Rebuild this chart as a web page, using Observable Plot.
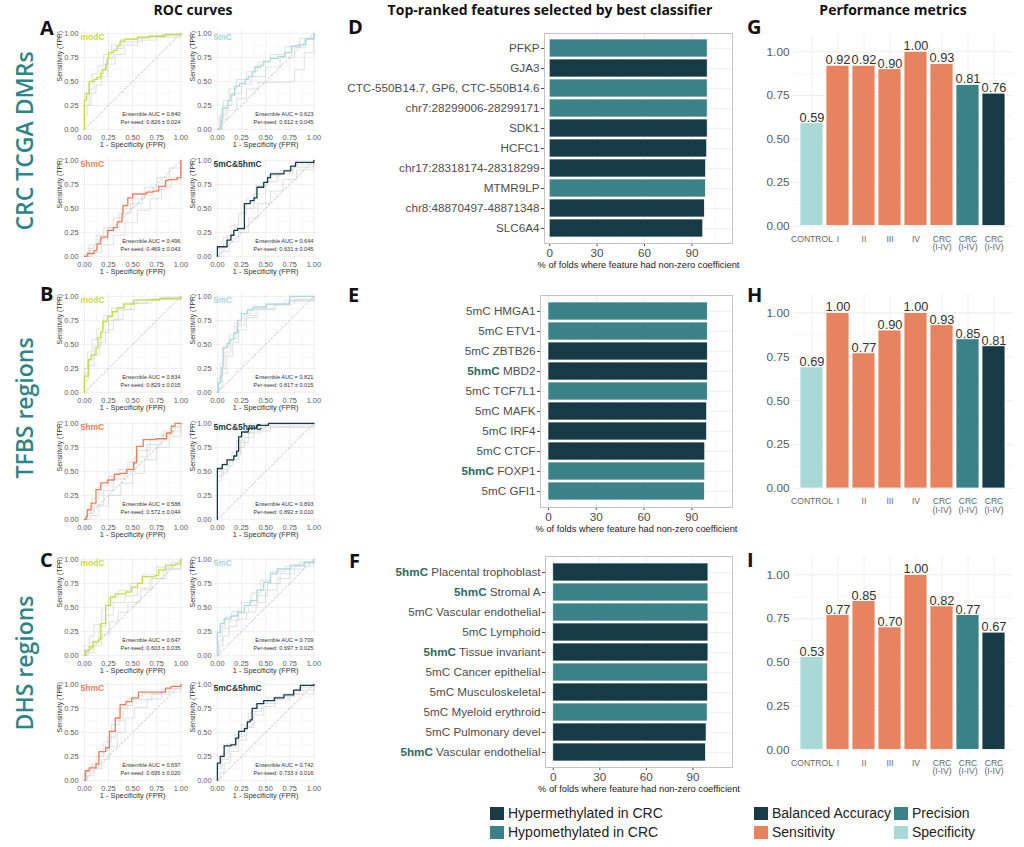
<!DOCTYPE html>
<html>
<head>
<meta charset="utf-8">
<script src="https://cdn.jsdelivr.net/npm/d3@7"></script>
<script src="https://cdn.jsdelivr.net/npm/@observablehq/plot@0.6"></script>
<style>
  body { margin: 0; background: #fff; }
  #fig { position: relative; width: 1024px; height: 847px; overflow: hidden; background: #fff;
         font-family: "Liberation Sans", Arial, sans-serif; }
  .sw { position: absolute; width: 14px; height: 13px; }
  .lg { position: absolute; font-size: 14px; color: #222; line-height: 13px; white-space: nowrap; }
</style>
</head>
<body>
<div id="fig"></div>
<script>
// ---------------- ROC curves: ensemble curve per model + a few per-seed curves ----------------
const rocModels = ["modC", "5mC", "5hmC", "5mC&5hmC"];
const rocColors = ["#c5de3c", "#a8dadc", "#e8825e", "#173a47"];

const aucEnsA = ["0.840", "0.623", "0.496", "0.644"];
const aucSeedA = ["0.826 ± 0.024", "0.612 ± 0.045", "0.469 ± 0.043", "0.631 ± 0.045"];
const aucEnsB = ["0.834", "0.821", "0.588", "0.893"];
const aucSeedB = ["0.829 ± 0.015", "0.817 ± 0.015", "0.572 ± 0.044", "0.892 ± 0.010"];
const aucEnsC = ["0.647", "0.709", "0.697", "0.742"];
const aucSeedC = ["0.603 ± 0.035", "0.697 ± 0.025", "0.695 ± 0.020", "0.733 ± 0.016"];

// [FPR, TPR] vertices of each stepped ROC curve
const ensA_modC = [[0,0],[0,0.30],[0.02,0.37],[0.05,0.50],[0.10,0.52],[0.13,0.54],[0.17,0.58],[0.19,0.62],[0.22,0.68],[0.24,0.74],[0.25,0.80],[0.30,0.82],[0.34,0.87],[0.37,0.92],[0.42,0.94],[0.55,0.955],[0.67,0.97],[0.84,0.99],[1,1]];
const ensA_5mC = [[0,0],[0.04,0.09],[0.05,0.22],[0.11,0.30],[0.14,0.36],[0.18,0.45],[0.23,0.48],[0.29,0.52],[0.32,0.55],[0.36,0.60],[0.39,0.65],[0.45,0.67],[0.48,0.71],[0.55,0.74],[0.63,0.76],[0.70,0.80],[0.77,0.87],[0.84,0.88],[0.91,0.94],[1,1]];
const ensA_5hmC = [[0,0],[0.03,0.03],[0.10,0.06],[0.13,0.13],[0.17,0.20],[0.24,0.27],[0.30,0.30],[0.34,0.36],[0.39,0.44],[0.40,0.53],[0.45,0.61],[0.50,0.65],[0.64,0.67],[0.71,0.68],[0.77,0.73],[0.84,0.79],[0.87,0.80],[0.96,0.82],[1,0.82],[1,1]];
const ensA_both = [[0,0],[0,0.10],[0.05,0.10],[0.10,0.17],[0.14,0.22],[0.17,0.27],[0.21,0.29],[0.28,0.29],[0.28,0.55],[0.34,0.58],[0.38,0.61],[0.41,0.72],[0.48,0.77],[0.52,0.82],[0.55,0.86],[0.69,0.89],[0.76,0.94],[0.81,0.98],[1,1]];

const ensB_modC = [[0,0],[0,0.17],[0.03,0.17],[0.04,0.34],[0.07,0.39],[0.12,0.46],[0.14,0.57],[0.17,0.63],[0.19,0.74],[0.24,0.79],[0.29,0.84],[0.34,0.88],[0.41,0.92],[0.51,0.96],[0.78,0.98],[1,1]];
const ensB_5mC = [[0,0],[0.01,0.10],[0.03,0.17],[0.05,0.27],[0.06,0.46],[0.10,0.51],[0.13,0.55],[0.17,0.62],[0.21,0.75],[0.25,0.82],[0.31,0.86],[0.38,0.89],[0.51,0.92],[0.74,0.94],[0.75,1],[1,1]];
const ensB_5hmC = [[0,0],[0.02,0.03],[0.03,0.10],[0.07,0.17],[0.12,0.31],[0.17,0.38],[0.24,0.41],[0.31,0.47],[0.37,0.48],[0.44,0.52],[0.51,0.59],[0.54,0.76],[0.61,0.83],[0.75,0.84],[0.85,0.90],[0.90,0.97],[0.94,1],[1,1]];
const ensB_both = [[0,0],[0,0.53],[0.05,0.57],[0.10,0.62],[0.17,0.66],[0.20,0.71],[0.22,0.86],[0.25,0.91],[0.32,0.95],[0.41,0.98],[0.53,1],[1,1]];

const ensC_modC = [[0,0],[0.01,0.05],[0.05,0.09],[0.09,0.14],[0.15,0.17],[0.17,0.33],[0.22,0.52],[0.27,0.61],[0.32,0.64],[0.43,0.66],[0.49,0.71],[0.55,0.75],[0.60,0.82],[0.73,0.83],[0.77,0.89],[0.84,0.94],[0.94,0.95],[1,1]];
const ensC_5mC = [[0,0],[0,0.24],[0.03,0.33],[0.07,0.38],[0.14,0.41],[0.21,0.45],[0.28,0.52],[0.34,0.57],[0.41,0.68],[0.48,0.76],[0.55,0.85],[0.62,0.90],[0.76,0.94],[0.90,0.97],[1,1]];
const ensC_5hmC = [[0,0],[0.01,0.10],[0.05,0.13],[0.12,0.17],[0.15,0.30],[0.22,0.34],[0.26,0.51],[0.32,0.65],[0.37,0.79],[0.43,0.82],[0.49,0.86],[0.56,0.92],[0.84,0.96],[0.90,0.98],[1,1]];
const ensC_both = [[0,0],[0,0.18],[0.03,0.25],[0.07,0.36],[0.14,0.37],[0.19,0.44],[0.22,0.51],[0.28,0.54],[0.31,0.61],[0.34,0.63],[0.36,0.75],[0.41,0.80],[0.48,0.83],[0.59,0.86],[0.69,0.89],[0.79,0.94],[0.86,0.99],[1,1]];

// per-seed curves (grey)
const seedA_modC = [
  [[0,0],[0,0.38],[0.04,0.48],[0.08,0.58],[0.14,0.66],[0.20,0.78],[0.28,0.88],[0.38,0.94],[0.55,0.97],[0.80,0.99],[1,1]],
  [[0,0],[0,0.15],[0.03,0.25],[0.07,0.38],[0.12,0.46],[0.18,0.55],[0.24,0.68],[0.32,0.78],[0.42,0.88],[0.55,0.93],[0.75,0.98],[1,1]],
  [[0,0],[0,0.25],[0.05,0.42],[0.10,0.52],[0.17,0.63],[0.23,0.74],[0.30,0.84],[0.40,0.91],[0.60,0.96],[1,1]]];
const seedA_5mC = [
  [[0,0],[0.02,0.12],[0.06,0.30],[0.12,0.42],[0.20,0.52],[0.30,0.60],[0.42,0.70],[0.55,0.78],[0.70,0.86],[0.85,0.95],[1,1]],
  [[0,0],[0.05,0.10],[0.10,0.20],[0.20,0.32],[0.30,0.42],[0.42,0.49],[0.60,0.49],[0.79,0.50],[0.80,0.62],[0.90,0.80],[1,1]],
  [[0,0],[0.03,0.15],[0.08,0.25],[0.15,0.38],[0.25,0.47],[0.35,0.55],[0.50,0.65],[0.65,0.75],[0.80,0.85],[0.92,0.95],[1,1]]];
const seedA_5hmC = [
  [[0,0],[0.05,0.12],[0.12,0.22],[0.20,0.30],[0.30,0.40],[0.40,0.50],[0.50,0.60],[0.62,0.72],[0.75,0.82],[0.88,0.92],[1,1]],
  [[0,0],[0.08,0.04],[0.18,0.12],[0.30,0.22],[0.42,0.35],[0.55,0.48],[0.68,0.60],[0.80,0.72],[0.90,0.82],[1,1]],
  [[0,0],[0.04,0.08],[0.14,0.18],[0.25,0.30],[0.36,0.45],[0.48,0.55],[0.60,0.64],[0.72,0.70],[0.85,0.80],[1,1]]];
const seedA_both = [
  [[0,0],[0,0.08],[0.06,0.20],[0.14,0.32],[0.22,0.45],[0.30,0.60],[0.40,0.74],[0.52,0.84],[0.65,0.90],[0.80,0.96],[1,1]],
  [[0,0],[0.05,0.05],[0.12,0.15],[0.22,0.25],[0.32,0.40],[0.42,0.55],[0.55,0.68],[0.68,0.80],[0.82,0.90],[1,1]],
  [[0,0],[0.02,0.10],[0.10,0.22],[0.18,0.30],[0.28,0.50],[0.38,0.65],[0.50,0.78],[0.62,0.86],[0.78,0.93],[1,1]]];

const seedB_modC = [
  [[0,0],[0,0.25],[0.03,0.42],[0.08,0.55],[0.13,0.66],[0.20,0.80],[0.28,0.88],[0.40,0.93],[0.55,0.97],[0.80,0.99],[1,1]],
  [[0,0],[0,0.12],[0.04,0.28],[0.10,0.40],[0.16,0.52],[0.22,0.65],[0.30,0.76],[0.40,0.86],[0.52,0.93],[0.70,0.97],[1,1]],
  [[0,0],[0,0.20],[0.05,0.35],[0.10,0.48],[0.17,0.62],[0.25,0.75],[0.35,0.86],[0.48,0.93],[0.65,0.97],[1,1]]];
const seedB_5mC = [
  [[0,0],[0,0.15],[0.03,0.30],[0.06,0.48],[0.12,0.60],[0.18,0.72],[0.25,0.82],[0.35,0.88],[0.50,0.92],[0.70,0.96],[1,1]],
  [[0,0],[0.02,0.05],[0.05,0.20],[0.10,0.38],[0.16,0.52],[0.22,0.65],[0.30,0.78],[0.42,0.86],[0.60,0.92],[0.80,0.97],[1,1]],
  [[0,0],[0.01,0.10],[0.04,0.25],[0.08,0.42],[0.14,0.56],[0.20,0.70],[0.28,0.80],[0.40,0.87],[0.58,0.91],[0.75,0.95],[1,1]]];
const seedB_5hmC = [
  [[0,0],[0.03,0.10],[0.08,0.22],[0.15,0.35],[0.25,0.45],[0.35,0.52],[0.45,0.60],[0.55,0.72],[0.68,0.84],[0.82,0.92],[1,1]],
  [[0,0],[0.06,0.04],[0.15,0.14],[0.25,0.25],[0.38,0.38],[0.50,0.48],[0.62,0.62],[0.75,0.75],[0.88,0.86],[1,1]],
  [[0,0],[0.02,0.06],[0.10,0.15],[0.20,0.30],[0.30,0.42],[0.42,0.50],[0.52,0.65],[0.65,0.78],[0.80,0.88],[0.92,0.96],[1,1]]];
const seedB_both = [
  [[0,0],[0,0.50],[0.05,0.58],[0.10,0.62],[0.15,0.70],[0.20,0.82],[0.26,0.90],[0.35,0.95],[0.50,0.99],[1,1]],
  [[0,0],[0,0.40],[0.04,0.48],[0.10,0.56],[0.16,0.62],[0.22,0.75],[0.28,0.85],[0.38,0.92],[0.55,0.97],[1,1]],
  [[0,0],[0,0.45],[0.06,0.52],[0.12,0.60],[0.18,0.68],[0.24,0.80],[0.32,0.90],[0.45,0.96],[1,1]]];

const seedC_modC = [
  [[0,0],[0,0.10],[0.05,0.20],[0.10,0.32],[0.18,0.48],[0.25,0.60],[0.35,0.68],[0.48,0.75],[0.60,0.84],[0.75,0.92],[0.90,0.97],[1,1]],
  [[0,0],[0.04,0.03],[0.10,0.10],[0.18,0.22],[0.26,0.35],[0.35,0.45],[0.45,0.55],[0.58,0.68],[0.70,0.80],[0.85,0.90],[1,1]],
  [[0,0],[0.02,0.06],[0.08,0.15],[0.15,0.30],[0.22,0.42],[0.30,0.55],[0.42,0.62],[0.55,0.70],[0.68,0.80],[0.82,0.90],[1,1]]];
const seedC_5mC = [
  [[0,0],[0,0.20],[0.03,0.30],[0.08,0.40],[0.15,0.46],[0.25,0.55],[0.35,0.65],[0.45,0.78],[0.55,0.87],[0.70,0.93],[0.85,0.97],[1,1]],
  [[0,0],[0.02,0.10],[0.06,0.20],[0.12,0.30],[0.20,0.38],[0.30,0.45],[0.40,0.55],[0.50,0.68],[0.62,0.80],[0.75,0.90],[0.90,0.96],[1,1]],
  [[0,0],[0.01,0.15],[0.05,0.28],[0.12,0.36],[0.22,0.44],[0.32,0.52],[0.42,0.62],[0.52,0.75],[0.65,0.85],[0.80,0.93],[1,1]]];
const seedC_5hmC = [
  [[0,0],[0,0.08],[0.06,0.15],[0.12,0.25],[0.20,0.40],[0.28,0.58],[0.36,0.75],[0.45,0.85],[0.60,0.90],[0.80,0.95],[1,1]],
  [[0,0],[0.03,0.05],[0.10,0.12],[0.18,0.22],[0.26,0.35],[0.34,0.50],[0.42,0.65],[0.52,0.76],[0.65,0.85],[0.80,0.92],[1,1]],
  [[0,0],[0.02,0.10],[0.08,0.18],[0.15,0.30],[0.24,0.45],[0.32,0.62],[0.40,0.78],[0.50,0.84],[0.70,0.90],[0.88,0.96],[1,1]]];
const seedC_both = [
  [[0,0],[0,0.15],[0.05,0.28],[0.10,0.38],[0.18,0.48],[0.25,0.58],[0.32,0.70],[0.40,0.80],[0.52,0.86],[0.68,0.90],[0.85,0.97],[1,1]],
  [[0,0],[0.02,0.08],[0.07,0.18],[0.14,0.30],[0.22,0.42],[0.30,0.55],[0.38,0.68],[0.48,0.77],[0.60,0.84],[0.75,0.90],[1,1]],
  [[0,0],[0,0.12],[0.04,0.22],[0.12,0.34],[0.20,0.46],[0.28,0.56],[0.36,0.72],[0.46,0.80],[0.60,0.87],[0.80,0.94],[1,1]]];

// ---------------- Top-ranked features ----------------
const featD = ["PFKP", "GJA3", "CTC-550B14.7, GP6, CTC-550B14.6", "chr7:28299006-28299171", "SDK1", "HCFC1",
               "chr17:28318174-28318299", "MTMR9LP", "chr8:48870497-48871348", "SLC6A4"];
const pctD = [100, 100, 100, 100, 100, 99.7, 99.0, 98.9, 98.2, 97.2];
const dirD = ["hypo", "hyper", "hypo", "hypo", "hyper", "hyper", "hyper", "hypo", "hyper", "hyper"];

const featE = ["5mC HMGA1", "5mC ETV1", "5mC ZBTB26", "5hmC MBD2", "5mC TCF7L1", "5mC MAFK", "5mC IRF4",
               "5mC CTCF", "5hmC FOXP1", "5mC GFI1"];
const pctE = [100, 100, 100, 100, 100, 99.6, 99.6, 98.4, 98.4, 98.2];
const dirE = ["hypo", "hypo", "hyper", "hyper", "hypo", "hyper", "hyper", "hyper", "hypo", "hypo"];

const featF = ["5hmC Placental trophoblast", "5hmC Stromal A", "5mC Vascular endothelial", "5mC Lymphoid",
               "5hmC Tissue invariant", "5mC Cancer epithelial", "5mC Musculoskeletal", "5mC Myeloid erythroid",
               "5mC Pulmonary devel", "5hmC Vascular endothelial"];
const pctF = [100, 100, 100, 100, 100, 99.8, 99.8, 99.5, 98.8, 98.4];
const dirF = ["hyper", "hypo", "hypo", "hyper", "hyper", "hypo", "hyper", "hypo", "hyper", "hyper"];

const dirLabels = {hyper: "Hypermethylated in CRC", hypo: "Hypomethylated in CRC"};
const dirColors = {hyper: "#173a47", hypo: "#3b8288"};

// ---------------- Performance metrics ----------------
const perfCategories = ["CONTROL", "I", "II", "III", "IV", "CRC\n(I-IV)", "CRC\n(I-IV)", "CRC\n(I-IV)"];
const perfMetric = ["Specificity", "Sensitivity", "Sensitivity", "Sensitivity", "Sensitivity", "Sensitivity", "Precision", "Balanced Accuracy"];
const perfG = [0.59, 0.92, 0.92, 0.90, 1.00, 0.93, 0.81, 0.76];
const perfH = [0.69, 1.00, 0.77, 0.90, 1.00, 0.93, 0.85, 0.81];
const perfI = [0.53, 0.77, 0.85, 0.70, 1.00, 0.82, 0.77, 0.67];
const metricColors = {"Balanced Accuracy": "#173a47", "Precision": "#3b8288", "Sensitivity": "#e8835f", "Specificity": "#a8d9d7"};

// ---------------- layout helpers ----------------
const fig = document.getElementById("fig");
const plotFont = '"Liberation Sans", Arial, Helvetica, sans-serif';
function place(node, left, top) {
  node.style.position = "absolute";
  node.style.left = left + "px";
  node.style.top = top + "px";
  fig.appendChild(node);
}

// ROC panel: x/y domains padded a little beyond [0, 1]
const R = {ux: 96.5, uy: 96, pad: 0.03, mL: 30, mR: 4, mT: 10, mB: 24};
function rocPanel(ens, seeds, name, color, auc, perSeed) {
  const seedRows = seeds.flatMap((curve, k) => curve.map(([x, y]) => ({x, y, k})));
  const ensRows = ens.map(([x, y]) => ({x, y}));
  const major = [0, 0.25, 0.5, 0.75, 1];
  const minor = [0.125, 0.375, 0.625, 0.875];
  return Plot.plot({
    width: R.mL + (1 + 2 * R.pad) * R.ux + R.mR,
    height: R.mT + (1 + 2 * R.pad) * R.uy + R.mB,
    marginLeft: R.mL, marginRight: R.mR, marginTop: R.mT, marginBottom: R.mB,
    x: {domain: [-R.pad, 1 + R.pad], ticks: major, tickFormat: ".2f", tickSize: 0, tickPadding: 2, label: null},
    y: {domain: [-R.pad, 1 + R.pad], ticks: major, tickFormat: ".2f", tickSize: 0, tickPadding: 3, label: null},
    style: {fontSize: "7.4px", color: "#5a5a5a", fontFamily: plotFont, background: "none", overflow: "visible"},
    marks: [
      Plot.ruleX(minor, {stroke: "#f3f3f3", strokeWidth: 0.5}),
      Plot.ruleY(minor, {stroke: "#f3f3f3", strokeWidth: 0.5}),
      Plot.ruleX(major, {stroke: "#e8e8e8", strokeWidth: 0.7}),
      Plot.ruleY(major, {stroke: "#e8e8e8", strokeWidth: 0.7}),
      Plot.line([[0, 0], [1, 1]], {stroke: "#a0a0a0", strokeWidth: 0.6, strokeDasharray: "2,2"}),
      Plot.line(seedRows, {x: "x", y: "y", z: "k", curve: "step-after", stroke: "#c2c2c2", strokeWidth: 0.5}),
      Plot.line(ensRows, {x: "x", y: "y", curve: "step-after", stroke: color, strokeWidth: 1.3}),
      Plot.text([name], {frameAnchor: "top-left", textAnchor: "start", dx: -1, dy: 3,
                         fill: color, fontWeight: "bold", fontSize: 8.5}),
      Plot.text(["Ensemble AUC = " + auc], {frameAnchor: "bottom-right", textAnchor: "end", dx: -3.4, dy: -16.5,
                                            fontSize: 5.6, fill: "#333"}),
      Plot.text(["Per-seed: " + perSeed], {frameAnchor: "bottom-right", textAnchor: "end", dx: -3.4, dy: -8.5,
                                           fontSize: 5.6, fill: "#333"}),
      Plot.text(["Sensitivity (TPR)"], {frameAnchor: "left", rotate: -90, dx: -22, fontSize: 6.8, fill: "#333"}),
      Plot.text(["1 - Specificity (FPR)"], {frameAnchor: "bottom", dy: 14.5, fontSize: 7.4, fill: "#333"})
    ]
  });
}

function rocBlock(ensList, seedList, aucs, perSeeds, yTop, yBottom) {
  const colLeft = [84, 217];
  const rowTop = [yTop, yBottom];
  for (let m = 0; m < 4; m++) {
    const svg = rocPanel(ensList[m], seedList[m], rocModels[m], rocColors[m], aucs[m], perSeeds[m]);
    const col = m % 2, row = Math.floor(m / 2);
    place(svg, colLeft[col] - R.pad * R.ux - R.mL, rowTop[row] - R.pad * R.uy - R.mT);
  }
}

// y positions are where TPR = 1 sits in each panel row
rocBlock([ensA_modC, ensA_5mC, ensA_5hmC, ensA_both], [seedA_modC, seedA_5mC, seedA_5hmC, seedA_both], aucEnsA, aucSeedA, 33, 159.5);
rocBlock([ensB_modC, ensB_5mC, ensB_5hmC, ensB_both], [seedB_modC, seedB_5mC, seedB_5hmC, seedB_both], aucEnsB, aucSeedB, 296, 423);
rocBlock([ensC_modC, ensC_5mC, ensC_5hmC, ensC_both], [seedC_modC, seedC_5mC, seedC_5hmC, seedC_both], aucEnsC, aucSeedC, 559, 684);

// Feature bar panel
function featurePanel(names, pcts, dirs, fr) {
  const rows = names.map((name, i) => ({name, pct: pcts[i], dir: dirs[i]}));
  const plotLeft = 330, mT = 8, mR = 8, mB = 32;
  const mL = fr.left - plotLeft;
  const svg = Plot.plot({
    width: fr.right - plotLeft + mR,
    height: fr.bottom - fr.top + mT + mB,
    marginLeft: mL, marginRight: mR, marginTop: mT, marginBottom: mB,
    x: {domain: fr.domain, ticks: [0, 30, 60, 90], tickSize: 3, tickPadding: 2, label: null},
    y: {domain: names, paddingInner: 0.1, paddingOuter: 0.15, tickSize: 3, tickPadding: 2, label: null},
    style: {fontSize: "11.7px", color: "#4d4d4d", fontFamily: plotFont, background: "none", overflow: "visible"},
    marks: [
      Plot.ruleX([15, 45, 75, 105], {stroke: "#f2f2f2", strokeWidth: 0.6}),
      Plot.ruleX([0, 30, 60, 90], {stroke: "#e6e6e6", strokeWidth: 0.8}),
      Plot.ruleY(names, {stroke: "#ececec", strokeWidth: 0.8}),
      Plot.barX(rows, {x: "pct", y: "name", fill: d => dirColors[d.dir], stroke: "white", strokeWidth: 0.7}),
      Plot.frame({stroke: "#c4c4c4", strokeWidth: 1}),
      Plot.text(["% of folds where feature had non-zero coefficient"], {frameAnchor: "bottom", dy: 24,
                                                                        fontSize: 9.3, fill: "#222"})
    ]
  });
  // modification prefix of a feature is set in bold
  svg.querySelectorAll("text").forEach(t => {
    const s = t.textContent;
    if (s.startsWith("5hmC ")) {
      const ns = "http://www.w3.org/2000/svg";
      t.textContent = "";
      const a = document.createElementNS(ns, "tspan");
      a.textContent = "5hmC";
      a.setAttribute("font-weight", "bold");
      a.setAttribute("fill", "#2e6b64");
      const b = document.createElementNS(ns, "tspan");
      b.textContent = s.slice(4);
      t.append(a, b);
    }
  });
  place(svg, plotLeft, fr.top - mT);
}

featurePanel(featD, pctD, dirD, {left: 544, right: 732, top: 33, bottom: 243, domain: [-3.3, 115.7]});
featurePanel(featE, pctE, dirE, {left: 540, right: 732, top: 295, bottom: 507, domain: [-5, 115.5]});
featurePanel(featF, pctF, dirF, {left: 545, right: 732, top: 556, bottom: 767, domain: [-5, 115.5]});

// Performance bar panel; y0/y1 are the pixel rows of 0 and 1
function perfPanel(values, y0, y1) {
  const unit = y0 - y1;
  const lo = -0.035, hi = 1.105;
  const top = y1 - (hi - 1) * unit, bottom = y0 - lo * unit;
  const plotLeft = 750, frameLeft = 793, frameRight = 1013, mT = 14, mB = 28, mR = 6;
  const rows = values.map((v, i) => ({i, v, metric: perfMetric[i], label: perfCategories[i]}));
  const svg = Plot.plot({
    width: frameRight + mR - plotLeft,
    height: bottom - top + mT + mB,
    marginLeft: frameLeft - plotLeft, marginRight: mR, marginTop: mT, marginBottom: mB,
    x: {domain: d3.range(values.length), paddingInner: 0.1, paddingOuter: 0.15, axis: null},
    y: {domain: [lo, hi], ticks: [0, 0.25, 0.5, 0.75, 1], tickFormat: ".2f", tickSize: 0, tickPadding: 4, label: null},
    style: {fontSize: "11.8px", color: "#5a5a5a", fontFamily: plotFont, background: "none", overflow: "visible"},
    marks: [
      Plot.ruleY([0.125, 0.375, 0.625, 0.875], {stroke: "#f3f3f3", strokeWidth: 0.6}),
      Plot.ruleY([0, 0.25, 0.5, 0.75, 1], {stroke: "#e8e8e8", strokeWidth: 0.8}),
      Plot.ruleX(d3.range(values.length), {stroke: "#ececec", strokeWidth: 0.8}),
      Plot.barY(rows, {x: "i", y: "v", fill: d => metricColors[d.metric], stroke: "white", strokeWidth: 0.8}),
      Plot.text(rows, {x: "i", y: "v", text: d => d.v.toFixed(2), lineAnchor: "bottom", dy: -1.5,
                       fontSize: 12.8, fill: "#333"}),
      Plot.text(rows, {x: "i", text: "label", frameAnchor: "bottom", lineAnchor: "top", dy: 3.5,
                       fontSize: 8.6, fill: "#666"})
    ]
  });
  place(svg, plotLeft, top - mT);
}

perfPanel(perfG, 226, 51.7);
perfPanel(perfH, 488.3, 312.7);
perfPanel(perfI, 749.3, 574.3);

// ---------------- legends ----------------
function legendItem(x, y, color, label) {
  const sw = document.createElement("div");
  sw.className = "sw";
  sw.style.background = color;
  place(sw, x, y);
  const tx = document.createElement("div");
  tx.className = "lg";
  tx.textContent = label;
  place(tx, x + 18, y);
}
legendItem(490, 807, dirColors.hyper, dirLabels.hyper);
legendItem(490, 826, dirColors.hypo, dirLabels.hypo);
legendItem(754, 807, metricColors["Balanced Accuracy"], "Balanced Accuracy");
legendItem(894, 807, metricColors["Precision"], "Precision");
legendItem(754, 826, metricColors["Sensitivity"], "Sensitivity");
legendItem(894, 826, metricColors["Specificity"], "Specificity");

// ---------------- titles, panel letters, row labels ----------------
const ns = "http://www.w3.org/2000/svg";
const overlay = document.createElementNS(ns, "svg");
overlay.setAttribute("width", 1024);
overlay.setAttribute("height", 847);
overlay.style.pointerEvents = "none";
function svgText(x, y, s, attrs) {
  const t = document.createElementNS(ns, "text");
  t.setAttribute("x", x);
  t.setAttribute("y", y);
  for (const k in attrs) t.setAttribute(k, attrs[k]);
  t.textContent = s;
  overlay.appendChild(t);
}
const headFont = {"font-family": '"Open Sans", sans-serif', "font-weight": 700, "font-size": 14, fill: "#111", "text-anchor": "middle"};
svgText(193, 15, "ROC curves", headFont);
svgText(550, 15, "Top-ranked features selected by best classifier", headFont);
svgText(893, 15, "Performance metrics", headFont);

const letterFont = {"font-family": '"Open Sans", sans-serif', "font-weight": 700, "font-size": 20, fill: "#111"};
[["A", 40, 35], ["B", 40, 301], ["C", 40, 567],
 ["D", 348, 34], ["E", 348, 301.5], ["F", 349, 568],
 ["G", 747, 34], ["H", 747, 301.5], ["I", 747, 567]].forEach(([s, x, y]) => svgText(x, y, s, letterFont));

const rowFont = {"font-family": '"Open Sans", sans-serif', "font-weight": 600, "font-size": 23, fill: "#2e8487",
                 "text-anchor": "middle", "dominant-baseline": "central"};
[["CRC TCGA DMRs", 141], ["TFBS regions", 408], ["DHS regions", 663]].forEach(([s, y]) =>
  svgText(0, 0, s, {...rowFont, transform: `translate(24,${y}) rotate(-90)`}));
place(overlay, 0, 0);
</script>
</body>
</html>
